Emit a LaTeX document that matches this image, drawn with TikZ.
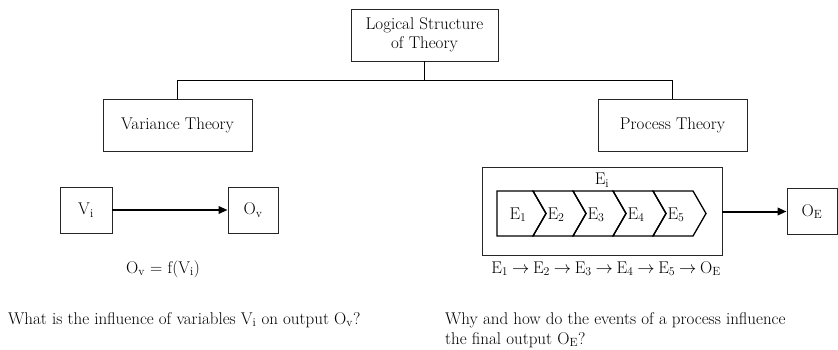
\documentclass[tikz,border=0pt]{standalone}
\usetikzlibrary{arrows.meta,positioning}

\newcommand{\nxt}{\hspace{.22em}$\rightarrow$\hspace{.22em}}

\begin{document}
\begin{tikzpicture}[x=1pt,y=-1pt,
  font=\fontsize{17}{19.5}\selectfont,
  box/.style={draw=black!85, line width=.9pt, align=center, inner sep=0pt},
  caption/.style={inner sep=0pt, align=left},
  link/.style={draw=black, line width=1pt},
  arrow/.style={-{Triangle[length=9pt,width=7.5pt]}, draw=black, line width=2pt},
  chevron/.style={draw=black, line width=1.3pt}
]
  \useasboundingbox (0,0) rectangle (838,350);
  % tree
  \node[box, minimum width=147, minimum height=52] (logic) at (424.5,35)
    {Logical Structure\\of Theory};
  \node[box, minimum width=149, minimum height=52] (variance) at (177.5,125)
    {Variance Theory};
  \node[box, minimum width=149, minimum height=52] (process) at (672.5,125)
    {Process Theory};
  \coordinate (fork) at (424.5,80.5);
  \draw[link, line width=1.6pt] (logic.south) -- (fork);
  \draw[link] (variance.north) |- (fork) -| (process.north);
  % variance side
  \node[box, minimum width=52, minimum height=46] (vi) at (86,210)
    {V\textsubscript{i}};
  \node[box, minimum width=50, minimum height=46] (ov) at (253,210)
    {O\textsubscript{v}};
  \draw[arrow] (vi.east) -- (ov.west);
  \node[caption, anchor=base] (formula) at (163,273)
    {O\textsubscript{v} = f(V\textsubscript{i})};
  \node[caption, anchor=base west] (qvar) at (8,324)
    {What is the influence of variables V\textsubscript{i} on output O\textsubscript{v}?};
  % process side
  \node[box, minimum width=240, minimum height=88] (events) at (602,211.5) {};
  \node[caption, anchor=base] (ei) at (602,185) {E\textsubscript{i}};
  \draw[chevron] (497,191) -- (533,191) -- (546,213.5) -- (533,236)
    -- (497,236) -- cycle;
  \node[caption, anchor=base] (e1) at (518,219) {E\textsubscript{1}};
  \foreach \i in {2,...,5}{
    \pgfmathsetmacro\l{453+40*\i}
    \draw[chevron] (\l,191) -- ++(40,0) -- ++(13,22.5) -- ++(-13,22.5)
      -- ++(-40,0) -- ++(13,-22.5) -- cycle;
    \node[caption, anchor=base] (e\i) at (\l+23,219) {E\textsubscript{\i}};
  }
  \node[box, minimum width=50, minimum height=46] (oe) at (812,211.5)
    {O\textsubscript{E}};
  \draw[arrow] (events.east) -- (oe.west);
  \node[caption, anchor=base] (chain) at (606,273)
    {E\textsubscript{1}\nxt E\textsubscript{2}\nxt E\textsubscript{3}\nxt
     E\textsubscript{4}\nxt E\textsubscript{5}\nxt O\textsubscript{E}};
  \node[caption, anchor=north west] (qproc) at (445,312.5)
    {Why and how do the events of a process influence\\the final output O\textsubscript{E}?};
\end{tikzpicture}
\end{document}
